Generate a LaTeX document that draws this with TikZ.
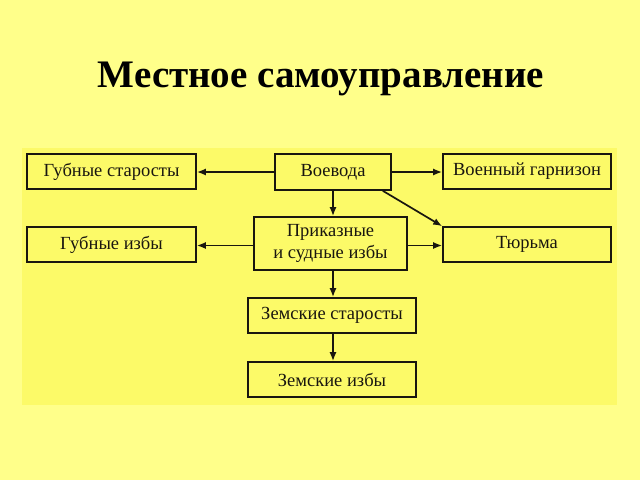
\documentclass[tikz,border=0pt]{standalone}
\usepackage{fontspec}
\setmainfont{Liberation Serif}
\usetikzlibrary{arrows.meta,calc}
\definecolor{outerbg}{RGB}{255,255,138}
\definecolor{panelbg}{RGB}{252,250,104}
\definecolor{ink}{RGB}{25,22,15}
\tikzset{
  box/.style={draw=ink, line width=1.6pt, fill=panelbg, text=ink, inner sep=0pt,
    font=\fontsize{18.5}{22}\selectfont, align=center},
  arr/.style={draw=ink, line width=1.7pt, -{Latex[length=9pt,width=7pt]}}
}
\begin{document}
\begin{tikzpicture}[x=1pt,y=-1pt]
\useasboundingbox (0,0) rectangle (640,480);
\fill[outerbg] (0,0) rectangle (640,480);
\fill[panelbg] (22,148) rectangle (617,405);
\node[font=\bfseries\fontsize{39}{42}\selectfont, text=black, anchor=base] (title) at (321,87) {Местное самоуправление};
\node[box, minimum width=169pt, minimum height=35pt] (gs) at (111.5,171.5) {Губные старосты};
\node[box, minimum width=116pt, minimum height=36pt] (vv) at (333,172) {Воевода};
\node[box, minimum width=168pt, minimum height=35pt] (vg) at (527,171.5) {Военный гарнизон};
\node[box, minimum width=169pt, minimum height=35pt] (gi) at (111.5,244.5) {Губные избы};
\node[box, minimum width=153pt, minimum height=53pt] (pr) at (330.5,243.5) {Приказные\\и судные избы};
\node[box, minimum width=168pt, minimum height=35pt] (tu) at (527,244.5) {Тюрьма};
\node[box, minimum width=168pt, minimum height=35pt] (zs) at (332,315.5) {Земские старосты};
\node[box, minimum width=168pt, minimum height=35pt] (zi) at (332,379.5) {Земские избы};
\coordinate (diagstart) at ($(vv.south east)+(-9,0)$);
\draw[arr] (vv.west) -- (vv.west -| gs.east);
\draw[arr] (vv.east) -- (vv.east -| vg.west);
\draw[arr] (vv.south) -- (vv.south |- pr.north);
\draw[arr] (diagstart) -- (tu.north west);
\draw[arr] ([yshift=-2pt]pr.west) -- ([yshift=-2pt]pr.west -| gi.east);
\draw[arr] ([yshift=-2pt]pr.east) -- ([yshift=-2pt]pr.east -| tu.west);
\draw[arr] (vv.south |- pr.south) -- (vv.south |- zs.north);
\draw[arr] (vv.south |- zs.south) -- (vv.south |- zi.north);
\end{tikzpicture}
\end{document}
